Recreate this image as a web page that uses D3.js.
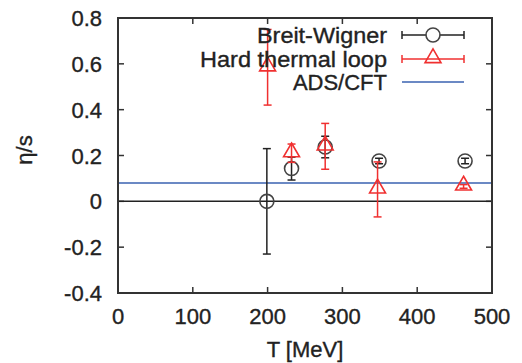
<!DOCTYPE html>
<html><head><meta charset="utf-8">
<script src="https://cdn.jsdelivr.net/npm/d3@7"></script>
<style>body{margin:0;background:#fff}svg{display:block}text{font-family:"Liberation Sans",Arial,sans-serif;fill:#222;stroke:#222;stroke-width:0.35px}</style>
</head><body>
<script>
const bwT   = [199, 232, 277, 349, 464];
const bwV   = [0.0, 0.143, 0.237, 0.176, 0.176];
const bwE   = [0.23, 0.05, 0.047, 0.012, 0.012];
const htlT  = [200, 232, 277, 347, 462];
const htlV  = [0.585, 0.21, 0.24, 0.052, 0.065];
const htlE  = [0.165, 0.04, 0.1, 0.12, 0.008];
const adsValue = 0.0796;
const xTicks = [0, 100, 200, 300, 400, 500];
const yTicks = [-0.4, -0.2, 0, 0.2, 0.4, 0.6, 0.8];
const yTickLabels = ["-0.4", "-0.2", "0", "0.2", "0.4", "0.6", "0.8"];
const legendLabels = ["Breit-Wigner", "Hard thermal loop", "ADS/CFT"];

const W = 522, H = 363;
const m = {l:118, r:30, t:18, b:70};
const svg = d3.select("body").append("svg").attr("width", W).attr("height", H);
const x = d3.scaleLinear().domain([0, 500]).range([m.l, W - m.r]);
const y = d3.scaleLinear().domain([-0.4, 0.8]).range([H - m.b, m.t]);
const fs = 22;

// ticks (inside, all sides)
const tk = 6;
const g = svg.append("g").attr("stroke", "#333").attr("stroke-width", 1.5);
xTicks.slice(1, -1).forEach(t => {
  g.append("line").attr("x1", x(t)).attr("x2", x(t)).attr("y1", y(-0.4)).attr("y2", y(-0.4) - tk);
  g.append("line").attr("x1", x(t)).attr("x2", x(t)).attr("y1", y(0.8)).attr("y2", y(0.8) + tk);
});
yTicks.slice(1, -1).forEach(t => {
  g.append("line").attr("x1", x(0)).attr("x2", x(0) + tk).attr("y1", y(t)).attr("y2", y(t));
  g.append("line").attr("x1", x(500)).attr("x2", x(500) - tk).attr("y1", y(t)).attr("y2", y(t));
});
// tick labels
xTicks.forEach(t => svg.append("text").attr("x", x(t)).attr("y", y(-0.4) + 31)
  .attr("text-anchor", "middle").attr("font-size", fs).text(String(t)));
yTicks.forEach((t, i) => svg.append("text").attr("x", 102).attr("y", y(t) + 8)
  .attr("text-anchor", "end").attr("font-size", fs).text(yTickLabels[i]));

// axis titles
svg.append("text").attr("x", (x(0) + x(500)) / 2).attr("y", 357).attr("text-anchor", "middle")
  .attr("font-size", fs).text("T [MeV]");
svg.append("text").attr("transform", `translate(32,150) rotate(-90)`).attr("text-anchor", "middle")
  .attr("font-size", fs).text("η/s");

// zero line
svg.append("line").attr("x1", x(0)).attr("x2", x(500)).attr("y1", y(0)).attr("y2", y(0))
  .attr("stroke", "#222").attr("stroke-width", 1.5);
// ADS/CFT line
svg.append("line").attr("x1", x(0)).attr("x2", x(500)).attr("y1", y(adsValue)).attr("y2", y(adsValue))
  .attr("stroke", "#3a62b0").attr("stroke-width", 1.5);

function errbar(gr, xs, ys, es, col) {
  xs.forEach((t, i) => {
    const cx = x(t), y1 = y(ys[i] + es[i]), y2 = y(ys[i] - es[i]);
    gr.append("line").attr("x1", cx).attr("x2", cx).attr("y1", y1).attr("y2", y2).attr("stroke", col).attr("stroke-width", 1.5);
    [y1, y2].forEach(yy => gr.append("line").attr("x1", cx - 4).attr("x2", cx + 4).attr("y1", yy).attr("y2", yy).attr("stroke", col).attr("stroke-width", 1.5));
  });
}
const tri = d3.symbol().type(d3.symbolTriangle).size(110);

// Breit-Wigner
const gb = svg.append("g");
errbar(gb, bwT, bwV, bwE, "#222");
bwT.forEach((t, i) => gb.append("circle").attr("cx", x(t)).attr("cy", y(bwV[i])).attr("r", 7)
  .attr("fill", "none").attr("stroke", "#444").attr("stroke-width", 1.6));
// HTL
const gh = svg.append("g");
errbar(gh, htlT, htlV, htlE, "#f03030");
htlT.forEach((t, i) => gh.append("path").attr("d", tri).attr("transform", `translate(${x(t)},${y(htlV[i]) - 1})`)
  .attr("fill", "none").attr("stroke", "#f03030").attr("stroke-width", 1.6));

// legend
const lx1 = 402, lx2 = 464, lxm = 433, ltx = 387;
const ly = [35, 59, 82];
const legendWidths = [130, 187, 0];
legendLabels.forEach((lab, i) => {
  const t = svg.append("text").attr("x", ltx).attr("y", ly[i] + 7.5)
    .attr("text-anchor", "end").attr("font-size", 22).text(lab);
  if (legendWidths[i]) t.attr("textLength", legendWidths[i]).attr("lengthAdjust", "spacingAndGlyphs");
});
// BW legend
svg.append("line").attr("x1", lx1).attr("x2", lx2).attr("y1", ly[0]).attr("y2", ly[0]).attr("stroke", "#222").attr("stroke-width", 1.5);
[lx1, lx2].forEach(xx => svg.append("line").attr("x1", xx).attr("x2", xx).attr("y1", ly[0] - 4).attr("y2", ly[0] + 4).attr("stroke", "#222").attr("stroke-width", 1.5));
svg.append("circle").attr("cx", lxm).attr("cy", ly[0]).attr("r", 7).attr("fill", "#fff").attr("stroke", "#444").attr("stroke-width", 1.6);
// HTL legend
svg.append("line").attr("x1", lx1).attr("x2", lx2).attr("y1", ly[1]).attr("y2", ly[1]).attr("stroke", "#f03030").attr("stroke-width", 1.5);
[lx1, lx2].forEach(xx => svg.append("line").attr("x1", xx).attr("x2", xx).attr("y1", ly[1] - 4).attr("y2", ly[1] + 4).attr("stroke", "#f03030").attr("stroke-width", 1.5));
svg.append("path").attr("d", tri).attr("transform", `translate(${lxm},${ly[1] - 1})`).attr("fill", "none").attr("stroke", "#f03030").attr("stroke-width", 1.6);
// ADS legend
svg.append("line").attr("x1", lx1).attr("x2", lx2).attr("y1", ly[2]).attr("y2", ly[2]).attr("stroke", "#3a62b0").attr("stroke-width", 1.5);

// frame
svg.append("rect").attr("x", x(0)).attr("y", y(0.8)).attr("width", x(500) - x(0)).attr("height", y(-0.4) - y(0.8))
  .attr("fill", "none").attr("stroke", "#333").attr("stroke-width", 2);
</script>
</body></html>
